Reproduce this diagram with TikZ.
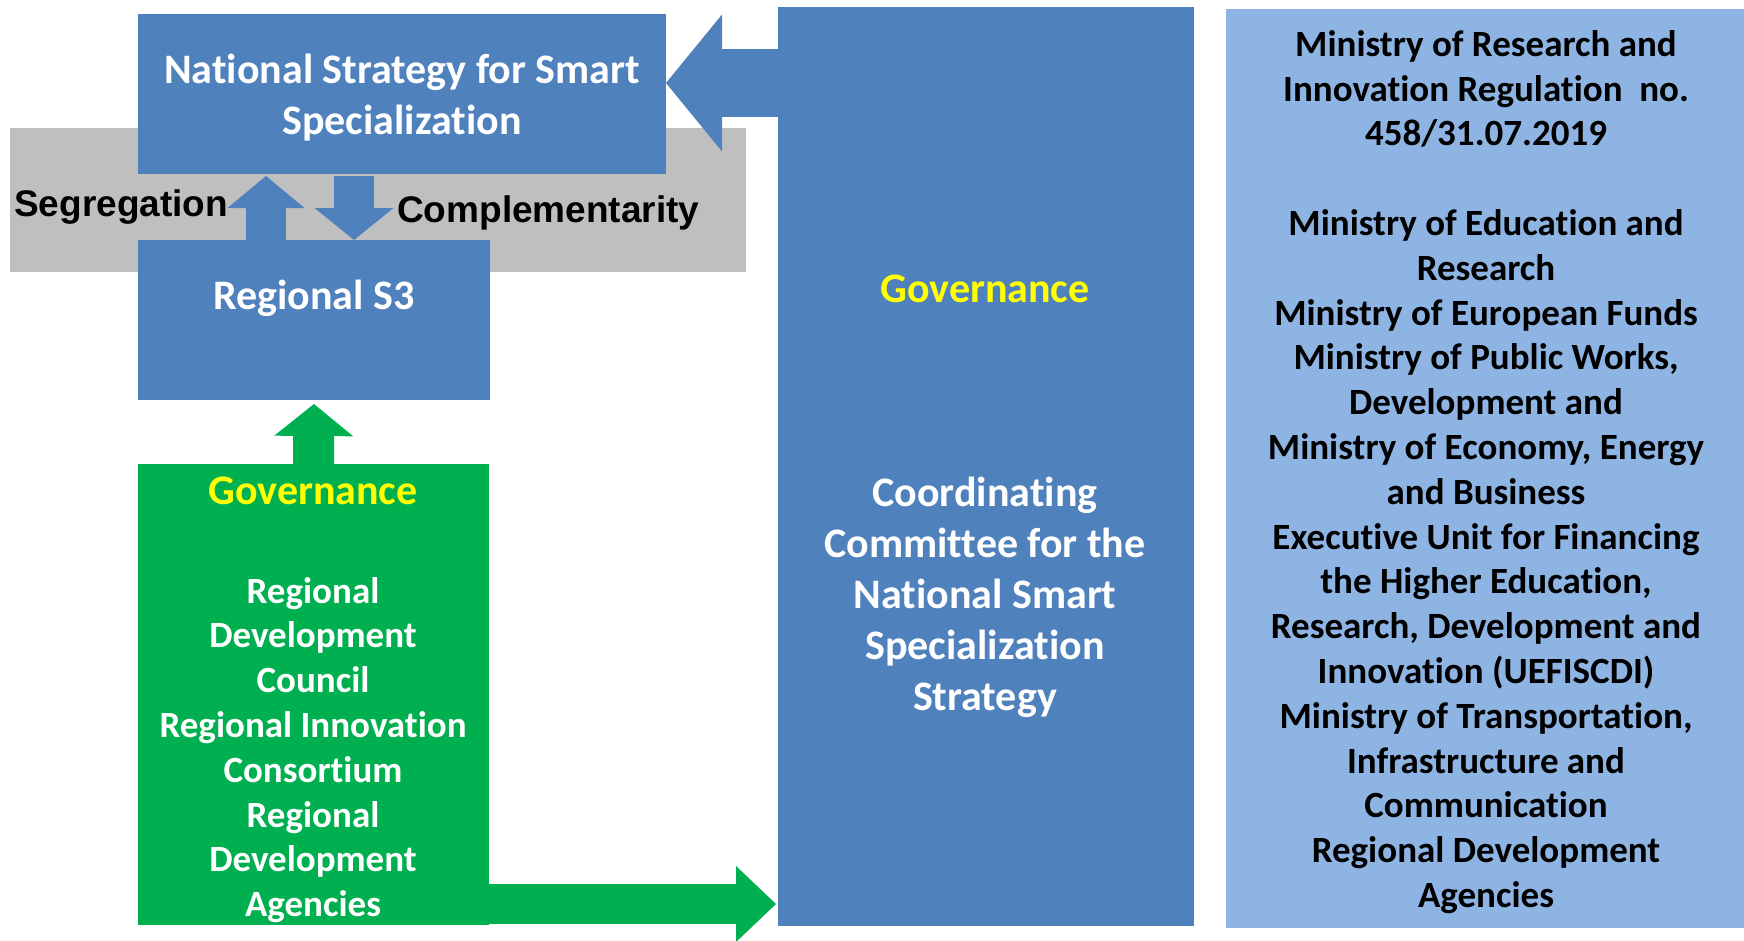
\documentclass[tikz,border=0pt]{standalone}
\usepackage{fontspec}
\setmainfont{Carlito}[Ligatures=NoCommon]
\newfontfamily\arialfont{Liberation Sans}
\usepackage{tikz}
\usetikzlibrary{arrows.meta,positioning}
\definecolor{boxblue}{RGB}{79,129,189}
\definecolor{paleblue}{RGB}{142,180,227}
\definecolor{bandgray}{RGB}{191,191,191}
\definecolor{govgreen}{RGB}{0,176,80}
\definecolor{govyellow}{RGB}{255,255,0}
\begin{document}
\begin{tikzpicture}[x=1pt,y=-1pt,
            box/.style={inner sep=0pt,outer sep=0pt,align=center},
            bluebox/.style={box,fill=boxblue},
            bigtext/.style={text=white,align=center,font=\bfseries\fontsize{42}{51}\selectfont},
            smalltext/.style={align=center,font=\bfseries\fontsize{37}{44.8}\selectfont},
            govtext/.style={text=govyellow,font=\bfseries\fontsize{42}{51}\selectfont},
            sidetext/.style={anchor=west,inner sep=0pt,font=\arialfont\bfseries\fontsize{37}{44}\selectfont},
            blockarrow/.style n args={3}{line width=#1,-{Triangle[width=#2,length=#3,line width=0pt]}}]
            \fill[white] (0,0) rectangle (1744,940);
            \useasboundingbox (0,0) rectangle (1744,940);
            \node[box,fill=bandgray,minimum width=736,minimum height=144] (band) at (378,200) {};
            \node[bluebox,minimum width=528,minimum height=160] (nsss) at (402,94) {};
            \node[bigtext] (nssst) at (402,97.5) {National Strategy for Smart\\Specialization};
            \node[bluebox,minimum width=352,minimum height=160] (rs3) at (314,320) {};
            \node[bigtext] (rs3t) at (314,298) {Regional S3};
            \node[box,fill=govgreen,minimum width=351,minimum height=461] (grn) at (313.5,694.5) {};
            \node[govtext] (ggov) at (313,491) {Governance};
            \node[smalltext,text=white] (gbody) at (313,750) {Regional\\Development\\Council\\Regional Innovation\\Consortium\\Regional\\Development\\Agencies};
            \node[bluebox,minimum width=416,minimum height=919] (cc) at (986,466.5) {};
            \node[govtext] (cgov) at (985,289) {Governance};
            \node[bigtext] (cbody) at (985,597) {Coordinating\\Committee for the\\National Smart\\Specialization\\Strategy};
            \node[box,fill=paleblue,minimum width=518,minimum height=919] (mins) at (1485,468.5) {};
            \node[smalltext] (minst) at (1486,472) {Ministry of Research and\\Innovation Regulation~ no.\\458/31.07.2019\\[44.8pt]Ministry of Education and\\Research\\Ministry of European Funds\\Ministry of Public Works,\\Development and\\Ministry of Economy, Energy\\and Business\\Executive Unit for Financing\\the Higher Education,\\Research, Development and\\Innovation (UEFISCDI)\\Ministry of Transportation,\\Infrastructure and\\Communication\\Regional Development\\Agencies};
            \node[sidetext] (seg) at (14,207) {Segregation};
            \node[sidetext] (comp) at (397,213) {Complementarity};
            \coordinate (ntip) at ([yshift=11pt]nsss.east);
            \coordinate (segfoot) at ([xshift=-48pt]rs3.north);
            \coordinate (compfoot) at ([xshift=-48pt]nsss.south);
            \coordinate (gfoot) at ([yshift=21pt]grn.south east);
            \draw[boxblue,blockarrow={68pt}{137pt}{56pt}] (cc.west |- ntip) -- (ntip);
            \draw[boxblue,blockarrow={40pt}{77pt}{32pt},shorten >=2pt] (segfoot) -- (segfoot |- nsss.south);
            \draw[boxblue,blockarrow={40pt}{79pt}{32pt},shorten <=2pt] (compfoot) -- (compfoot |- rs3.north);
            \draw[govgreen,blockarrow={41pt}{79pt}{32pt},shorten >=4pt] (grn.north) -- (rs3.south);
            \draw[govgreen,blockarrow={40pt}{76pt}{40pt},shorten >=2pt] (gfoot) -- (gfoot -| cc.west);
        \end{tikzpicture}
\end{document}
